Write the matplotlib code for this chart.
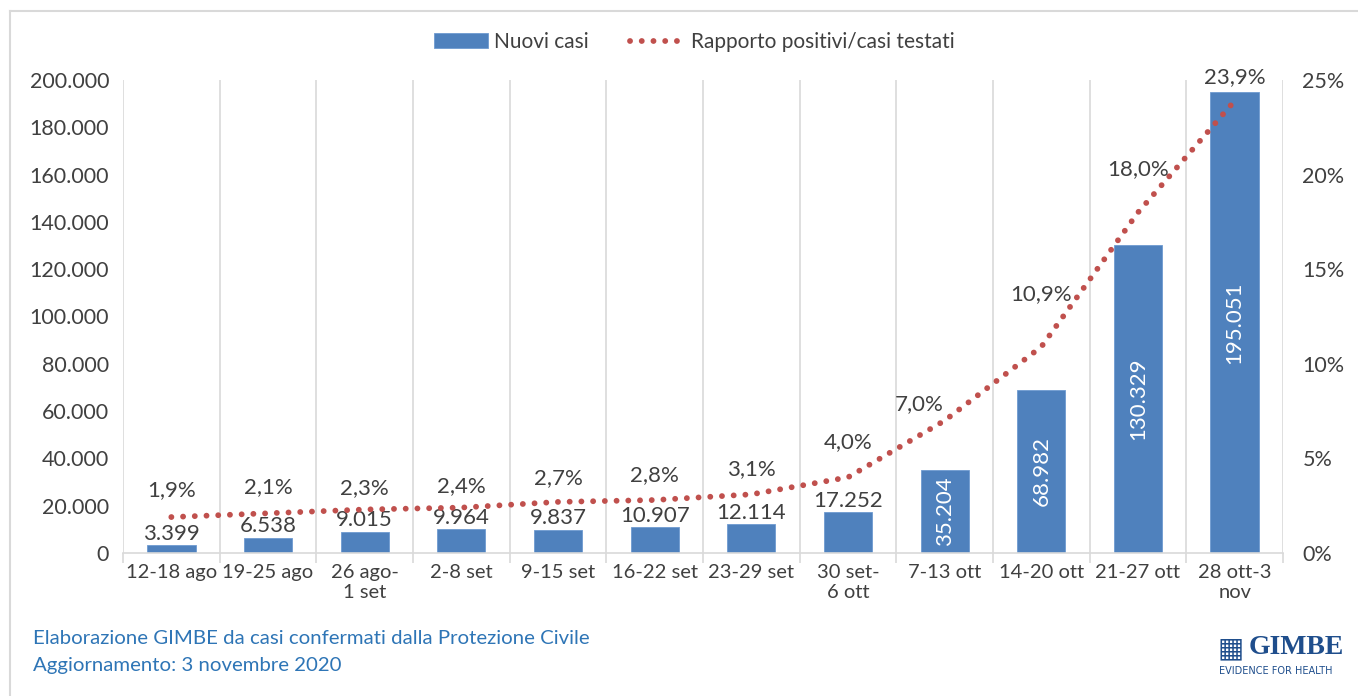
import numpy as np
import matplotlib
matplotlib.use('Agg')
import matplotlib.pyplot as plt
from matplotlib.ticker import FuncFormatter

# data
weeks = ['12-18 ago', '19-25 ago', '26 ago-\n1 set', '2-8 set', '9-15 set',
         '16-22 set', '23-29 set', '30 set-\n6 ott', '7-13 ott', '14-20 ott',
         '21-27 ott', '28 ott-3\nnov']
new_cases = [3399, 6538, 9015, 9964, 9837, 10907, 12114, 17252, 35204, 68982,
             130329, 195051]
positivity = [1.9, 2.1, 2.3, 2.4, 2.7, 2.8, 3.1, 4.0, 7.0, 10.9, 18.0, 23.9]

plt.rcParams['font.family'] = ['Lato', 'DejaVu Sans']
txt = '#404040'
bar_col = '#4f81bd'
line_col = '#c0504d'
grid_col = '#d9d9d9'


def it_num(v):
    return f'{int(v):,}'.replace(',', '.')


fig = plt.figure(figsize=(13.58, 6.96), dpi=100)
ax = fig.add_axes([123 / 1358, 1 - 553 / 696, 1160 / 1358, 473 / 696])
ax2 = ax.twinx()

x = np.arange(len(weeks))
bars = ax.bar(x, new_cases, width=0.5, color=bar_col, edgecolor='#6f9bd0',
              linewidth=0.6, zorder=2, label='Nuovi casi')
ax.set_xlim(-0.5, len(weeks) - 0.5)
ax.set_ylim(0, 200000)
ax.set_yticks(np.arange(0, 200001, 20000))
ax.yaxis.set_major_formatter(FuncFormatter(lambda v, p: it_num(v)))

# category boundaries as vertical grid lines
ax.set_xticks(x)
ax.set_xticklabels(weeks)
ax.set_xticks(np.arange(-0.5, len(weeks)), minor=True)
ax.grid(False)
for b in np.arange(-0.5, len(weeks)):
    ax.axvline(b, color=grid_col, lw=1.2, zorder=1)
ax.tick_params(axis='x', which='major', length=0, pad=8, labelsize=14.5,
               colors=txt)
ax.tick_params(axis='x', which='minor', length=7, color=grid_col, width=1.2)
ax.tick_params(axis='y', length=0, pad=10, labelsize=15.5, colors=txt)
for s in ['top', 'right', 'left']:
    ax.spines[s].set_visible(False)
ax.spines['bottom'].set_color(grid_col)
ax.spines['bottom'].set_linewidth(1.2)

# bar value labels
for i, (r, v) in enumerate(zip(bars, new_cases)):
    if v < 20000:
        ax.annotate(it_num(v), (r.get_x() + r.get_width() / 2, v),
                    xytext=(0, 1), textcoords='offset points', ha='center',
                    va='bottom', fontsize=16, color=txt)
    else:
        ax.text(r.get_x() + r.get_width() / 2, v / 2, it_num(v), rotation=90,
                ha='center', va='center', fontsize=16, color='white')

# positivity line
ax2.plot(x, positivity, color=line_col, lw=4.2, linestyle=(0, (0.01, 2.0)),
         dash_capstyle='round', zorder=3, label='Rapporto positivi/casi testati')
ax2.set_ylim(0, 25)
ax2.set_yticks(np.arange(0, 26, 5))
ax2.yaxis.set_major_formatter(FuncFormatter(lambda v, p: f'{int(v)}%'))
ax2.tick_params(axis='y', length=0, pad=14, labelsize=15.5, colors=txt)
for s in ax2.spines.values():
    s.set_visible(False)

offsets = {0: 12, 1: 12, 2: 8, 3: 8, 4: 10, 5: 11, 6: 11, 7: 18,
           8: (-18, 5), 9: 31, 10: 24, 11: 10}
for i, p in enumerate(positivity):
    off = offsets.get(i, 12)
    dx, dy = off if isinstance(off, tuple) else (0, off)
    ax2.annotate(f'{p:.1f}%'.replace('.', ','), (i, p), xytext=(dx, dy),
                 textcoords='offset points', ha='center', va='bottom',
                 fontsize=16, color=txt)

# legend
h1, l1 = ax.get_legend_handles_labels()
h2, l2 = ax2.get_legend_handles_labels()
fig.legend(h1 + h2, l1 + l2, loc='center', bbox_to_anchor=(694 / 1358, 1 - 42 / 696),
           ncol=2, frameon=False, fontsize=15, handlelength=2.6,
           columnspacing=2.0, handletextpad=0.3, labelcolor=txt)

# outer frame (left and top edges)
fig.add_artist(plt.Line2D([10 / 1358, 10 / 1358], [0, 1 - 11 / 696],
                          color=grid_col, lw=1.5, transform=fig.transFigure))
fig.add_artist(plt.Line2D([10 / 1358, 1], [1 - 11 / 696, 1 - 11 / 696],
                          color=grid_col, lw=1.5, transform=fig.transFigure))

# footer
foot_col = '#2e75b6'
fig.text(33 / 1358, 1 - 638 / 696, 'Elaborazione GIMBE da casi confermati dalla Protezione Civile',
         fontsize=14.7, color=foot_col, va='center')
fig.text(33 / 1358, 1 - 665 / 696, 'Aggiornamento: 3 novembre 2020',
         fontsize=14.7, color=foot_col, va='center')

# logo
logo_col = '#1f4e8c'
fig.text(1217 / 1358, 1 - 648 / 696, '\u25a6', fontsize=20, color=logo_col,
         va='center', ha='left', family='DejaVu Sans')
fig.text(1249 / 1358, 1 - 647 / 696, 'GIMBE', fontsize=20, color=logo_col,
         va='center', ha='left', family='Liberation Serif', weight='bold')
fig.text(1219 / 1358, 1 - 671 / 696, 'EVIDENCE FOR HEALTH',
         fontsize=7, color=logo_col, va='center', ha='left',
         family='DejaVu Sans')

fig.savefig('out.png', dpi=100, facecolor='white')
